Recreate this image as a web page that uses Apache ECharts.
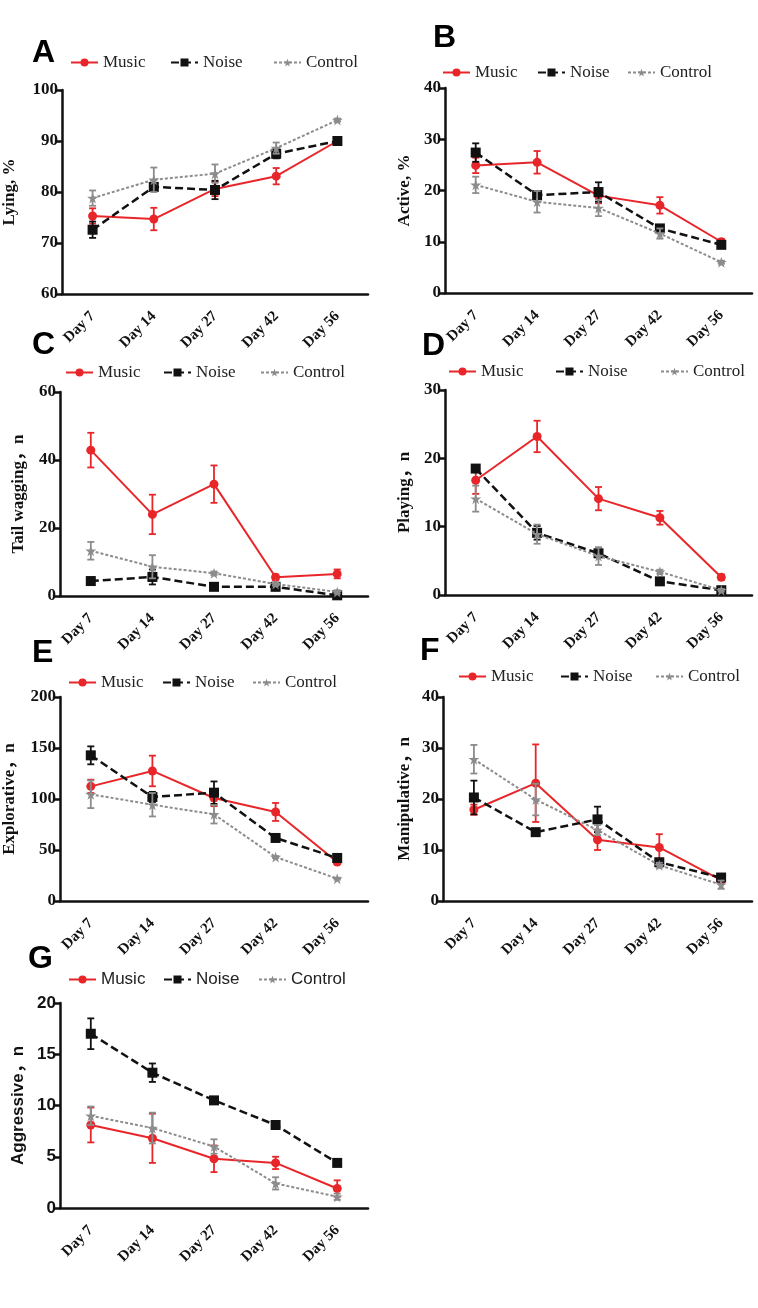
<!DOCTYPE html>
<html>
<head>
<meta charset="utf-8">
<script src="https://cdn.jsdelivr.net/npm/echarts@6/dist/echarts.min.js"></script>
<style>
  html, body { margin: 0; padding: 0; background: #fff; }
  #chart { width: 758px; height: 1308px; }
</style>
</head>
<body>
<div id="chart"></div>
<script>
var days = ['Day 7', 'Day 14', 'Day 27', 'Day 42', 'Day 56'];
var groups = ['Music', 'Noise', 'Control'];

// A - Lying, %
var lyingMusic = [75.3, 74.7, 80.6, 83.1, 90.0];
var lyingMusicErr = [1.5, 2.2, 1.4, 1.6, 0.5];
var lyingNoise = [72.6, 81.0, 80.4, 87.5, 90.0];
var lyingNoiseErr = [1.6, 0.6, 1.8, 0.9, 0.7];
var lyingControl = [78.8, 82.4, 83.6, 88.6, 94.1];
var lyingControlErr = [1.5, 2.4, 1.8, 1.1, 0.3];

// B - Active, %
var activeMusic = [24.9, 25.5, 19.0, 17.1, 10.0];
var activeMusicErr = [1.5, 2.2, 1.5, 1.6, 0.5];
var activeNoise = [27.4, 19.1, 19.7, 12.6, 9.4];
var activeNoiseErr = [1.8, 0.5, 1.9, 0.6, 0.6];
var activeControl = [21.1, 17.8, 16.6, 11.6, 6.0];
var activeControlErr = [1.6, 2.1, 1.6, 1.0, 0.3];

// C - Tail wagging, n
var tailMusic = [42.9, 24.0, 32.9, 5.5, 6.5];
var tailMusicErr = [5.1, 5.8, 5.5, 0.8, 1.3];
var tailNoise = [4.4, 5.6, 2.7, 2.7, 0.2];
var tailNoiseErr = [0.5, 2.2, 0.5, 0.5, 0.5];
var tailControl = [13.3, 8.6, 6.7, 3.5, 1.2];
var tailControlErr = [2.6, 3.4, 0.5, 0.5, 0.5];

// D - Playing, n
var playMusic = [16.8, 23.2, 14.1, 11.3, 2.6];
var playMusicErr = [2.0, 2.3, 1.7, 1.0, 0.4];
var playNoise = [18.5, 9.1, 6.1, 2.0, 0.7];
var playNoiseErr = [0.5, 1.0, 0.5, 0.4, 0.2];
var playControl = [14.1, 8.9, 5.7, 3.4, 0.7];
var playControlErr = [1.9, 1.4, 1.3, 0.3, 0.2];

// E - Explorative, n
var exploreMusic = [112.4, 127.5, 101.0, 87.3, 38.2];
var exploreMusicErr = [6.5, 15.0, 8.0, 8.8, 2.0];
var exploreNoise = [142.8, 102.0, 106.2, 61.8, 42.2];
var exploreNoiseErr = [8.8, 5.0, 11.0, 2.0, 2.0];
var exploreControl = [104.6, 94.4, 85.0, 43.1, 21.9];
var exploreControlErr = [13.5, 11.5, 9.0, 1.0, 1.0];

// F - Manipulative, n
var manipMusic = [17.9, 23.1, 12.0, 10.5, 4.1];
var manipMusicErr = [1.0, 7.6, 2.0, 2.6, 0.5];
var manipNoise = [20.3, 13.5, 16.0, 7.6, 4.6];
var manipNoiseErr = [3.3, 0.5, 2.5, 0.5, 0.5];
var manipControl = [27.8, 19.9, 13.9, 7.0, 3.2];
var manipControlErr = [2.8, 3.1, 1.0, 0.5, 0.8];

// G - Aggressive, n
var aggrMusic = [8.1, 6.8, 4.8, 4.4, 1.9];
var aggrMusicErr = [1.7, 2.4, 1.3, 0.6, 0.8];
var aggrNoise = [17.0, 13.2, 10.5, 8.1, 4.4];
var aggrNoiseErr = [1.5, 0.9, 0.3, 0.4, 0.3];
var aggrControl = [9.0, 7.8, 6.0, 2.4, 1.1];
var aggrControlErr = [0.9, 1.5, 0.7, 0.6, 0.3];

var SERIF = "'Liberation Serif', 'Noto Sans CJK SC', serif";
var SANS = "'Liberation Sans', 'Noto Sans CJK SC', sans-serif";
var STAR = 'path://M50,0 L61,35 L98,35 L68,57 L79,91 L50,70 L21,91 L32,57 L2,35 L39,35 Z';

var styles = {
    Music: {color: '#e8262a', symbol: 'circle', size: 9, line: 'solid', width: 2},
    Noise: {color: '#111111', symbol: 'rect', size: 10, line: [8, 4], width: 2.5},
    Control: {color: '#8c8c8c', symbol: STAR, size: 11, line: [3, 2], width: 2}
};

// panel layout: grid box, y-scale, name gap, legend slots
var panels = [
    {letter: 'A', lx: 32, ly: 37, name: 'Lying, %', min: 60, max: 100, step: 10, gap: 44,
        grid: [60, 90, 308, 204], legY: 63, legX: [70, 170, 273],
        vals: [lyingMusic, lyingNoise, lyingControl], errs: [lyingMusicErr, lyingNoiseErr, lyingControlErr]},
    {letter: 'B', lx: 433, ly: 22, name: 'Active, %', min: 0, max: 40, step: 10, gap: 32,
        grid: [445, 88, 307, 205], legY: 73, legX: [442, 537, 627],
        vals: [activeMusic, activeNoise, activeControl], errs: [activeMusicErr, activeNoiseErr, activeControlErr]},
    {letter: 'C', lx: 32, ly: 329, name: 'Tail wagging，n', min: 0, max: 60, step: 20, gap: 33,
        grid: [60, 392, 308, 204], legY: 373, legX: [65, 163, 260],
        vals: [tailMusic, tailNoise, tailControl], errs: [tailMusicErr, tailNoiseErr, tailControlErr]},
    {letter: 'D', lx: 422, ly: 330, name: 'Playing，n', min: 0, max: 30, step: 10, gap: 32,
        grid: [445, 390, 307, 205], legY: 372, legX: [448, 555, 660],
        vals: [playMusic, playNoise, playControl], errs: [playMusicErr, playNoiseErr, playControlErr]},
    {letter: 'E', lx: 32, ly: 637, name: 'Explorative，n', min: 0, max: 200, step: 50, gap: 42,
        grid: [60, 697, 308, 204], legY: 683, legX: [68, 162, 252],
        vals: [exploreMusic, exploreNoise, exploreControl], errs: [exploreMusicErr, exploreNoiseErr, exploreControlErr]},
    {letter: 'F', lx: 420, ly: 635, name: 'Manipulative，n', min: 0, max: 40, step: 10, gap: 30,
        grid: [443, 697, 309, 204], legY: 677, legX: [458, 560, 655],
        vals: [manipMusic, manipNoise, manipControl], errs: [manipMusicErr, manipNoiseErr, manipControlErr]},
    {letter: 'G', lx: 28, ly: 943, name: 'Aggressive，n', min: 0, max: 20, step: 5, gap: 33, sans: true,
        grid: [60, 1003, 308, 205], legY: 980, legX: [68, 163, 258],
        vals: [aggrMusic, aggrNoise, aggrControl], errs: [aggrMusicErr, aggrNoiseErr, aggrControlErr]}
];

// vertical error bar with caps
function renderErr(params, api) {
    var i = api.value(0);
    var lo = api.coord([i, api.value(1)]);
    var hi = api.coord([i, api.value(2)]);
    var w = 3.5;
    var st = {stroke: api.visual('color'), lineWidth: 1.8};
    return {
        type: 'group',
        children: [
            {type: 'line', shape: {x1: lo[0], y1: lo[1], x2: hi[0], y2: hi[1]}, style: st},
            {type: 'line', shape: {x1: lo[0] - w, y1: lo[1], x2: lo[0] + w, y2: lo[1]}, style: st},
            {type: 'line', shape: {x1: hi[0] - w, y1: hi[1], x2: hi[0] + w, y2: hi[1]}, style: st}
        ]
    };
}

var grids = [], xAxes = [], yAxes = [], series = [], legends = [], graphics = [];

panels.forEach(function (p, k) {
    var font = p.sans ? SANS : SERIF;
    grids.push({left: p.grid[0], top: p.grid[1], width: p.grid[2], height: p.grid[3]});
    xAxes.push({
        type: 'category', gridIndex: k, data: days, boundaryGap: true,
        axisLine: {lineStyle: {color: '#111', width: 2.5}},
        axisTick: {alignWithLabel: true, length: 6, lineStyle: {color: '#111', width: 2.5}},
        axisLabel: {rotate: 45, margin: 20, color: '#111', fontFamily: SERIF, fontWeight: 'bold', fontSize: 15}
    });
    yAxes.push({
        type: 'value', gridIndex: k, min: p.min, max: p.max, interval: p.step,
        name: p.name, nameLocation: 'middle', nameGap: p.gap,
        nameTextStyle: {color: '#111', fontFamily: font, fontWeight: 'bold', fontSize: 17},
        axisLine: {show: true, lineStyle: {color: '#111', width: 2.5}},
        axisTick: {show: true, length: 6, lineStyle: {color: '#111', width: 2.5}},
        axisLabel: {margin: 4, color: '#111', fontFamily: font, fontWeight: 'bold', fontSize: 17},
        splitLine: {show: false}
    });

    groups.forEach(function (g, j) {
        var s = styles[g];
        var errData = p.vals[j].map(function (v, i) {
            return [i, v - p.errs[j][i], v + p.errs[j][i]];
        });
        series.push({
            type: 'custom', xAxisIndex: k, yAxisIndex: k, z: 2 + j,
            renderItem: renderErr, itemStyle: {color: s.color},
            encode: {x: 0, y: [1, 2]}, data: errData, silent: true
        });
        series.push({
            name: g, type: 'line', xAxisIndex: k, yAxisIndex: k, z: 2 + j,
            data: p.vals[j], symbol: s.symbol, symbolSize: s.size, showSymbol: true,
            itemStyle: {color: s.color},
            lineStyle: {color: s.color, type: s.line, width: s.width},
            animation: false
        });
        legends.push({
            data: [g], left: p.legX[j], top: p.legY - 9, selectedMode: false,
            itemWidth: 27, itemHeight: 10, padding: 0,
            textStyle: {color: '#222', fontFamily: font, fontSize: 17}
        });
    });

    graphics.push({
        type: 'text', left: p.lx, top: p.ly,
        style: {text: p.letter, font: 'bold 32px ' + SANS, fill: '#000'}
    });
});

var chart = echarts.init(document.getElementById('chart'));
chart.setOption({
    animation: false,
    backgroundColor: '#fff',
    grid: grids,
    xAxis: xAxes,
    yAxis: yAxes,
    legend: legends,
    series: series,
    graphic: graphics
});
</script>
</body>
</html>
